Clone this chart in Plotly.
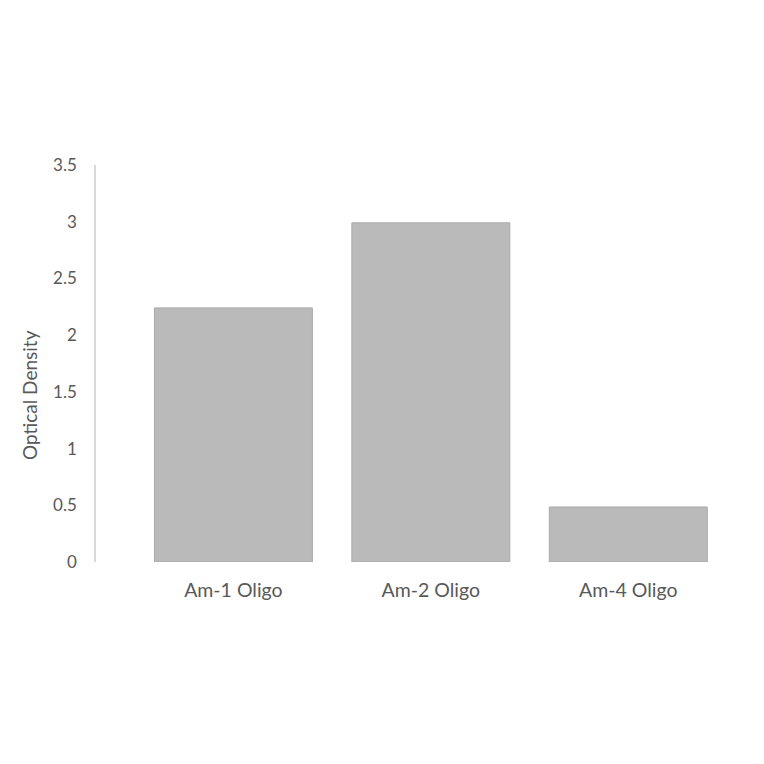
import plotly.graph_objects as go

categories = ["Am-1 Oligo", "Am-2 Oligo", "Am-4 Oligo"]
optical_density = [2.24, 2.99, 0.485]
y_ticks = [0, 0.5, 1, 1.5, 2, 2.5, 3, 3.5]
y_tick_text = ["0", "0.5", "1", "1.5", "2", "2.5", "3", "3.5"]

fig = go.Figure()
fig.add_trace(go.Bar(
    x=[0, 1, 2], y=optical_density, width=0.8,
    marker=dict(color="#bababa", line=dict(color="#a8a8a8", width=1)),
    showlegend=False))

# y title sits a bit below the plot's middle, so place it as an annotation
fig.add_annotation(text="Optical Density", textangle=-90,
                   xref="paper", yref="paper", x=-0.105, y=0.42,
                   xanchor="center", yanchor="middle", showarrow=False,
                   font=dict(size=19, color="#595959"))

fig.update_layout(
    width=764, height=764,
    margin=dict(l=88, r=45, t=157, b=210),
    plot_bgcolor="white", paper_bgcolor="white",
    font=dict(family="Lato, Open Sans, sans-serif", color="#595959"),
    xaxis=dict(range=[-0.696, 2.5], tickvals=[0, 1, 2], ticktext=categories,
               showgrid=False, zeroline=False, showline=False, ticks="",
               tickfont=dict(size=19.5), ticklabelstandoff=14),
    yaxis=dict(range=[0, 3.5], tickvals=y_ticks, ticktext=y_tick_text,
               showgrid=False, zeroline=False, showline=True,
               linecolor="#d9d9d9", linewidth=1.5, ticks="",
               tickfont=dict(size=17), ticklabelstandoff=14),
)

fig.write_html("out.html")
